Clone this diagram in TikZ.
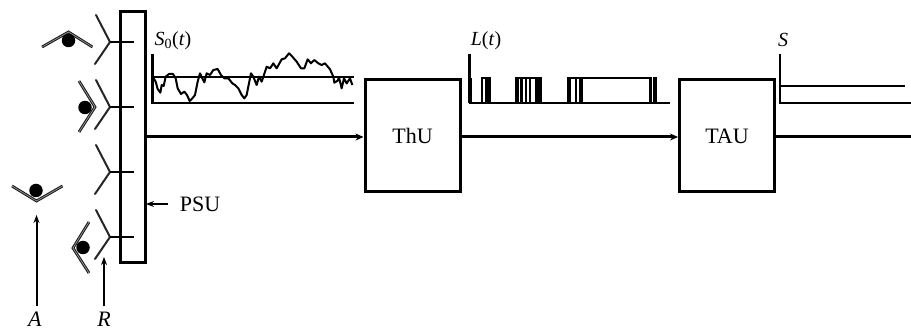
\documentclass[tikz,border=0pt]{standalone}
\usepackage{fontspec}
\setmainfont{Liberation Serif}
\usetikzlibrary{arrows.meta}

\begin{document}
\begin{tikzpicture}
    [
      x=1pt,y=-1pt,
      inner sep=0pt,
      box/.style={draw=black,line width=3pt,rectangle,minimum width=95pt,
        minimum height=112pt,font=\fontsize{22}{24}\selectfont},
      signal/.style={line width=3pt,draw=black},
      feed/.style={-{Stealth[length=8pt,width=7pt]},signal},
      pointer/.style={-{Stealth[length=8pt,width=6pt]},line width=2pt,draw=black},
      axis/.style={line width=2.2pt,draw=black},
      trace/.style={line width=2pt,draw=black,line join=round},
      arm/.style={line width=2pt,draw=black!85,line cap=round},
      antibody/.style={line width=1pt,draw=black!90,double=black!45,double distance=.8pt},
      ball/.style={circle,fill=black,minimum size=13.5pt},
      caption/.style={font=\fontsize{22}{24}\selectfont},
      chartlabel/.style={font=\fontsize{20}{22}\selectfont}
    ]

    \useasboundingbox (0,0) rectangle (911,331);

    % units
    \node at (133,137) [box,minimum width=25pt,minimum height=251pt] (psu) {};
    \node at (412.5,136) [box] (thu) {ThU};
    \node at (727,136) [box] (tau) {TAU};
    \coordinate (out) at (911,137);

    \draw [feed] (psu.east |- 0,137) -- (thu.west |- 0,137);
    \draw [feed] (thu.east |- 0,137) -- (tau.west |- 0,137);
    \draw [signal] (tau.east |- 0,137) -- (out);

    % receptors
    \foreach \y in {42,107,172,237} {
      \draw [arm] (96,\y-27) -- (110,\y) -- (95,\y+22);
      \draw [signal,line width=2.4pt] (110,\y) -- (134,\y);
    }

    % antibodies
    \draw [antibody] (42,47) -- (68.5,32) -- (92.5,47);
    \draw [antibody] (79,81) -- (95,107) -- (79,132);
    \draw [antibody] (12,186) -- (36.5,201) -- (62.5,186);
    \draw [antibody] (89,222) -- (73,248) -- (89,273);
    \node at (68.5,40.5) [ball] (ball1) {};
    \node at (85,107.5) [ball] (ball2) {};
    \node at (36,190.5) [ball] (ball3) {};
    \node at (83,247.5) [ball] (ball4) {};

    % labels and pointers
    \node at (35,319.5) [caption] (labela) {\textit{A}};
    \node at (104,319.5) [caption] (labelr) {\textit{R}};
    \node at (200,204) [caption] (labelpsu) {PSU};
    \coordinate (taila) at (36.5,306);
    \coordinate (heada) at (36.5,215);
    \coordinate (tailr) at (104,306);
    \coordinate (headr) at (104,257);
    \coordinate (tailp) at (168,204);
    \coordinate (headp) at (146,204);
    \draw [pointer] (taila) -- (heada);
    \draw [pointer] (tailr) -- (headr);
    \draw [pointer] (tailp) -- (headp);

    % first chart
    \node at (173,41) [chartlabel] (labels0) {\textit{S}\textsubscript{0}(\textit{t})};
    \draw [axis] (152.5,54) -- (152.5,102.7) -- (354,102.7);
    \draw [axis] (152.5,76.7) -- (354,76.7);
    \begin{scope}[shift={(145,20)},xscale=1/3,yscale=1/3]
      \draw [trace] plot coordinates {(24,172) (32,185) (38,207) (46,218) (50,195) (56,198)
        (62,170) (72,162) (84,162) (92,175) (98,205) (108,222) (118,215) (126,225) (134,243)
        (142,235) (150,225) (158,185) (165,160) (172,175) (178,187) (185,160) (195,165)
        (205,150) (218,147) (228,165) (238,175) (250,175) (262,190) (270,195) (280,205)
        (290,225) (298,235) (305,225) (318,160) (325,170) (335,195) (342,170) (350,185)
        (365,140) (375,145) (385,130) (395,145) (410,118) (420,115) (432,100) (442,110)
        (455,125) (468,145) (478,145) (488,118) (498,130) (508,120) (520,130) (530,135)
        (540,130) (555,148) (565,170) (568,188) (578,182) (582,172) (590,205) (597,175)
        (605,190) (615,175) (622,195)};
    \end{scope}

    % second chart
    \node at (486,41) [chartlabel] (labell) {\textit{L}(\textit{t})};
    \draw [axis,line width=2.6pt] (469.3,54) -- (469.3,102.7);
    \draw [axis] (469.3,102.7) -- (670,102.7);
    \begin{scope}[shift={(460,20)},xscale=1/3,yscale=1/3]
      \foreach \a/\b in {24/36,64/70,76/92,165/176,181/190,194/202,206/214,225/245,
        322/332,345/352,358/368,568/575,580/590} {
        \fill [black] (\a,173) rectangle (\b,248);
      }
      \foreach \a/\b in {64/92,165/245,322/575,580/590} {
        \draw [axis] (\a,173) -- (\b,173);
      }
    \end{scope}

    % third chart
    \node at (783,40) [chartlabel] (labelout) {\textit{S}};
    \draw [axis] (780,54) -- (780,102.7) -- (911,102.7);
    \draw [axis] (780,85.7) -- (905,85.7);
\end{tikzpicture}
\end{document}
